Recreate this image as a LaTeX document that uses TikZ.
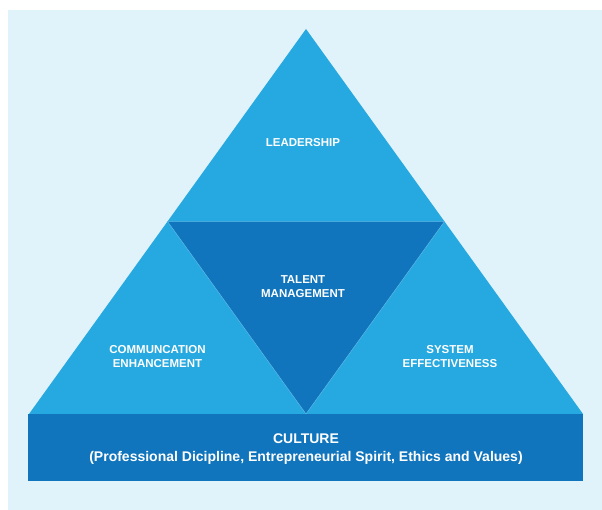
\documentclass[tikz,border=0pt]{standalone}
\usepackage{fontspec}
\setmainfont{Liberation Sans}
\usetikzlibrary{calc}
\definecolor{pale}{RGB}{224,243,251}
\definecolor{sky}{RGB}{38,169,224}
\definecolor{deep}{RGB}{16,117,188}
\definecolor{seam}{RGB}{95,188,234}

\begin{document}
\begin{tikzpicture}[x=1pt,y=1pt,
    tag/.style={text=white,font=\fontsize{11.5}{14}\selectfont\bfseries,align=center,inner sep=0pt},
    band/.style={text=white,font=\fontsize{14}{17.5}\selectfont\bfseries,align=center,inner sep=0pt}]
  \useasboundingbox (0,0) rectangle (602,510);
  \fill[pale] (8,0) rectangle (602,500);
  % outer triangle and its corners
  \coordinate (apex) at (306,481);
  \coordinate (bl) at (29,96);
  \coordinate (br) at (583,96);
  \coordinate (ml) at ($(apex)!0.5!(bl)$);
  \coordinate (mr) at ($(apex)!0.5!(br)$);
  \coordinate (mb) at ($(bl)!0.5!(br)$);
  \fill[sky] (apex) -- (bl) -- (br) -- cycle;
  \filldraw[fill=deep,draw=seam,line width=0.5pt] (ml) -- (mr) -- (mb) -- cycle;
  % base band
  \fill[deep] (28,29) rectangle (583,96);
  \node[tag] (lead) at (303,367.2) {LEADERSHIP};
  \node[tag] (talent) at (303,223) {TALENT\\MANAGEMENT};
  \node[tag] (comm) at (157.5,153.2) {COMMUNCATION\\ENHANCEMENT};
  \node[tag] (sys) at (450,153.2) {SYSTEM\\EFFECTIVENESS};
  \node[band] (culture) at (306,61) {CULTURE\\(Professional Dicipline, Entrepreneurial Spirit, Ethics and Values)};
\end{tikzpicture}
\end{document}
